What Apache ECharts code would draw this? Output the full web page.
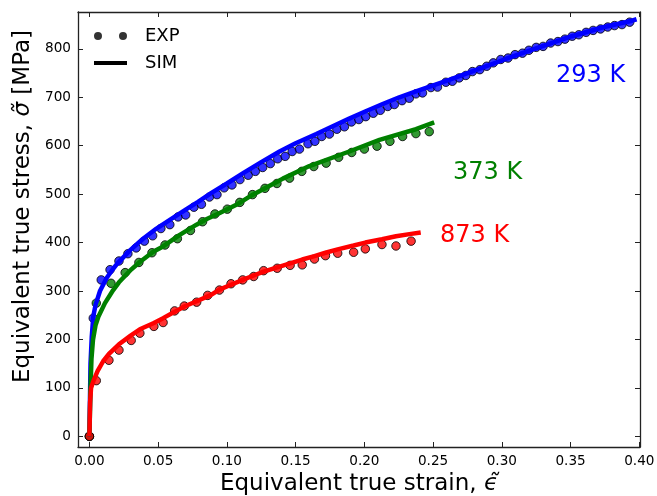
<!DOCTYPE html>
<html><head><meta charset="utf-8">
<script src="https://cdn.jsdelivr.net/npm/echarts@6/dist/echarts.min.js"></script>
<style>html,body{margin:0;padding:0;background:#fff}#c{width:657px;height:496px}</style>
</head><body><div id="c"></div>
<script>
const xTicks = [0, 0.05, 0.10, 0.15, 0.20, 0.25, 0.30, 0.35, 0.40];
const yTicks = [0, 100, 200, 300, 400, 500, 600, 700, 800];
const tempLabels = ['293 K', '373 K', '873 K'];

const exp293 = [[0,0],[0.0028,244],[0.0086,323],[0.015,344],[0.0215,362],[0.028,377],[0.034,389],[0.040,403],[0.046,414],[0.052,429],[0.0585,437],[0.0645,453],[0.070,457],[0.076,473],[0.0815,479],[0.0873,494],[0.0928,499],[0.098,513],[0.1037,519],[0.1095,530],[0.1155,539],[0.1207,547],[0.126,555],[0.1316,563],[0.137,573],[0.1424,578],[0.1475,588],[0.1528,593],[0.159,604],[0.164,609],[0.169,619],[0.1746,624],[0.180,634],[0.1855,639],[0.1906,649],[0.196,654],[0.201,660],[0.2065,667],[0.2116,673],[0.217,681],[0.2218,685],[0.2274,693],[0.2327,698],[0.2375,707],[0.2423,709],[0.2484,720],[0.2532,721],[0.2593,731],[0.2640,733],[0.269,740],[0.2738,745],[0.2786,753],[0.284,757],[0.289,764],[0.2938,771],[0.2992,778],[0.3045,781],[0.3096,788],[0.315,791],[0.3197,797],[0.325,803],[0.330,805],[0.3355,812],[0.3408,815],[0.3459,820],[0.3512,826],[0.356,829],[0.3613,834],[0.3664,838],[0.3718,841],[0.377,845],[0.382,848],[0.3874,850],[0.393,855]];
const exp373 = [[0,0],[0.005,275],[0.0157,316],[0.026,338],[0.036,359],[0.0455,379],[0.055,395],[0.064,408],[0.0735,425],[0.0823,443],[0.0913,459],[0.1003,469],[0.1094,483],[0.1186,499],[0.1277,512],[0.1364,522],[0.1456,533],[0.1545,547],[0.1632,557],[0.1722,564],[0.1813,576],[0.1908,586],[0.200,593],[0.2092,599],[0.2186,609],[0.2278,619],[0.2375,625],[0.2472,629]];
const exp873 = [[0,0],[0.005,115],[0.0142,157],[0.0215,178],[0.0304,198],[0.0367,213],[0.0469,227],[0.0536,235],[0.062,259],[0.069,269],[0.078,277],[0.086,291],[0.0946,302],[0.103,315],[0.1115,323],[0.1195,330],[0.1267,342],[0.1366,347],[0.146,353],[0.1548,354],[0.1637,366],[0.1717,373],[0.1806,378],[0.1922,380],[0.2007,387],[0.2128,396],[0.223,393],[0.234,403]];

const sim293 = [[0,0],[0.0008,150],[0.0017,205],[0.0028,247],[0.0045,272],[0.0077,300],[0.0125,327],[0.0173,346],[0.0198,355],[0.0295,384],[0.039,408],[0.0488,429],[0.0585,447],[0.0706,469],[0.079,484],[0.0885,502],[0.100,522],[0.1127,545],[0.125,566],[0.1383,588],[0.150,605],[0.165,624],[0.177,640],[0.189,656],[0.201,671],[0.2133,686],[0.2254,700],[0.2375,712],[0.2496,724],[0.2617,736],[0.282,757],[0.3028,779],[0.327,803],[0.351,826],[0.373,844],[0.3947,858],[0.398,861]];
const sim373 = [[0,0],[0.0008,100],[0.0015,160],[0.0026,199],[0.0045,230],[0.0065,247],[0.0113,275],[0.0173,302],[0.0215,318],[0.0295,342],[0.0367,360],[0.0464,381],[0.0536,392],[0.0657,416],[0.0779,437],[0.085,448],[0.0948,461],[0.1069,478],[0.1165,495],[0.1369,526],[0.1407,532],[0.160,558],[0.189,588],[0.211,612],[0.2375,634],[0.2508,648]];
const sim873 = [[0,0],[0.0005,70],[0.0012,100],[0.003,115],[0.006,135],[0.010,155],[0.0142,170],[0.0215,190],[0.030,208],[0.0367,221],[0.0469,234],[0.0536,244],[0.062,257],[0.069,268],[0.078,279],[0.0885,292],[0.0946,303],[0.103,313],[0.1115,323],[0.1195,332],[0.1267,340],[0.1366,349],[0.146,357],[0.1548,365],[0.1637,372],[0.1717,379],[0.1806,386],[0.1922,394],[0.2007,400],[0.2128,407],[0.223,413],[0.234,418],[0.241,421]];

const FONT = 'DejaVu Sans';
const chart = echarts.init(document.getElementById('c'), null, {renderer: 'canvas'});

const XMIN = -0.0083, XMAX = 0.4005, YMIN = -22, YMAX = 876;
const spine = {show: true, onZero: false, lineStyle: {color: '#222', width: 1.3}};
const tickIn = (vals) => ({show: true, inside: true, length: 5, lineStyle: {color: '#222', width: 1}, customValues: vals});

function expSeries(name, data, color) {
  return {name: name, type: 'scatter', data: data, symbol: 'circle', symbolSize: 8.5, z: 2,
    itemStyle: {color: color, borderColor: '#000', borderWidth: 1}, silent: true};
}
function simSeries(name, data, color) {
  return {name: name, type: 'line', data: data, showSymbol: false, symbol: 'none', z: 3,
    lineStyle: {color: color, width: 4.5}, itemStyle: {color: color}, silent: true, animation: false};
}

chart.setOption({
  animation: false,
  backgroundColor: '#fff',
  grid: {left: 78, right: 17, top: 12, bottom: 49, containLabel: false, outerBoundsMode: 'none'},
  xAxis: [{
    type: 'value', min: XMIN, max: XMAX, position: 'bottom',
    axisLine: spine, axisTick: tickIn(xTicks), splitLine: {show: false},
    axisLabel: {customValues: xTicks, formatter: v => v.toFixed(2), color: '#000', fontFamily: FONT, fontSize: 13.6, margin: 7},
    name: '{a|Equivalent true strain, }{b|ϵ̃}', nameLocation: 'middle', nameGap: 22,
    nameTextStyle: {rich: {a: {fontFamily: FONT, fontSize: 23, color: '#000'}, b: {fontFamily: FONT, fontSize: 23, fontStyle: 'italic', color: '#000'}}}
  }, {
    type: 'value', min: XMIN, max: XMAX, position: 'top',
    axisLine: spine, axisTick: tickIn(xTicks), axisLabel: {show: false}, splitLine: {show: false}
  }],
  yAxis: [{
    type: 'value', min: YMIN, max: YMAX, position: 'left',
    axisLine: spine, axisTick: tickIn(yTicks), splitLine: {show: false},
    axisLabel: {customValues: yTicks, color: '#000', fontFamily: FONT, fontSize: 13.6, margin: 7},
    name: '{a|Equivalent true stress, }{b|σ̃}{a| [MPa]}', nameLocation: 'middle', nameGap: 43, nameRotate: 90,
    nameTextStyle: {padding: [0, 0, 0, 46], rich: {a: {fontFamily: FONT, fontSize: 23, color: '#000'}, b: {fontFamily: FONT, fontSize: 23, fontStyle: 'italic', color: '#000'}}}
  }, {
    type: 'value', min: YMIN, max: YMAX, position: 'right',
    axisLine: spine, axisTick: tickIn(yTicks), axisLabel: {show: false}, splitLine: {show: false}
  }],
  legend: {
    left: 89, top: 22, orient: 'vertical', itemWidth: 33, itemHeight: 10, itemGap: 9, selectedMode: false,
    textStyle: {fontFamily: FONT, fontSize: 18, color: '#000', padding: [0, 0, 0, 13]},
    data: [
      {name: 'EXP', icon: 'path://M0,4a4,4 0 1,0 8,0a4,4 0 1,0 -8,0zM25,4a4,4 0 1,0 8,0a4,4 0 1,0 -8,0z', itemStyle: {color: '#000', borderWidth: 0}},
      {name: 'SIM', icon: 'path://M0,0h31v3.6h-31z', itemStyle: {color: '#000', borderWidth: 0}}
    ]
  },
  series: [
    expSeries('293 K EXP', exp293, '#0000ff'),
    expSeries('373 K EXP', exp373, '#008000'),
    expSeries('873 K EXP', exp873, '#ff0000'),
    simSeries('293 K SIM', sim293, '#0000ff'),
    simSeries('373 K SIM', sim373, '#008000'),
    simSeries('873 K SIM', sim873, '#ff0000'),
    {name: 'EXP', type: 'scatter', data: [], itemStyle: {color: '#000'}},
    {name: 'SIM', type: 'line', data: [], itemStyle: {color: '#000'}, lineStyle: {color: '#000', width: 4}}
  ],
  graphic: [
    {type: 'text', left: 556, top: 64, silent: true, style: {text: tempLabels[0], fill: '#0000ff', font: '24px "DejaVu Sans"'}},
    {type: 'text', left: 453, top: 161, silent: true, style: {text: tempLabels[1], fill: '#008000', font: '24px "DejaVu Sans"'}},
    {type: 'text', left: 440, top: 224, silent: true, style: {text: tempLabels[2], fill: '#ff0000', font: '24px "DejaVu Sans"'}}
  ]
});
</script>
</body></html>
